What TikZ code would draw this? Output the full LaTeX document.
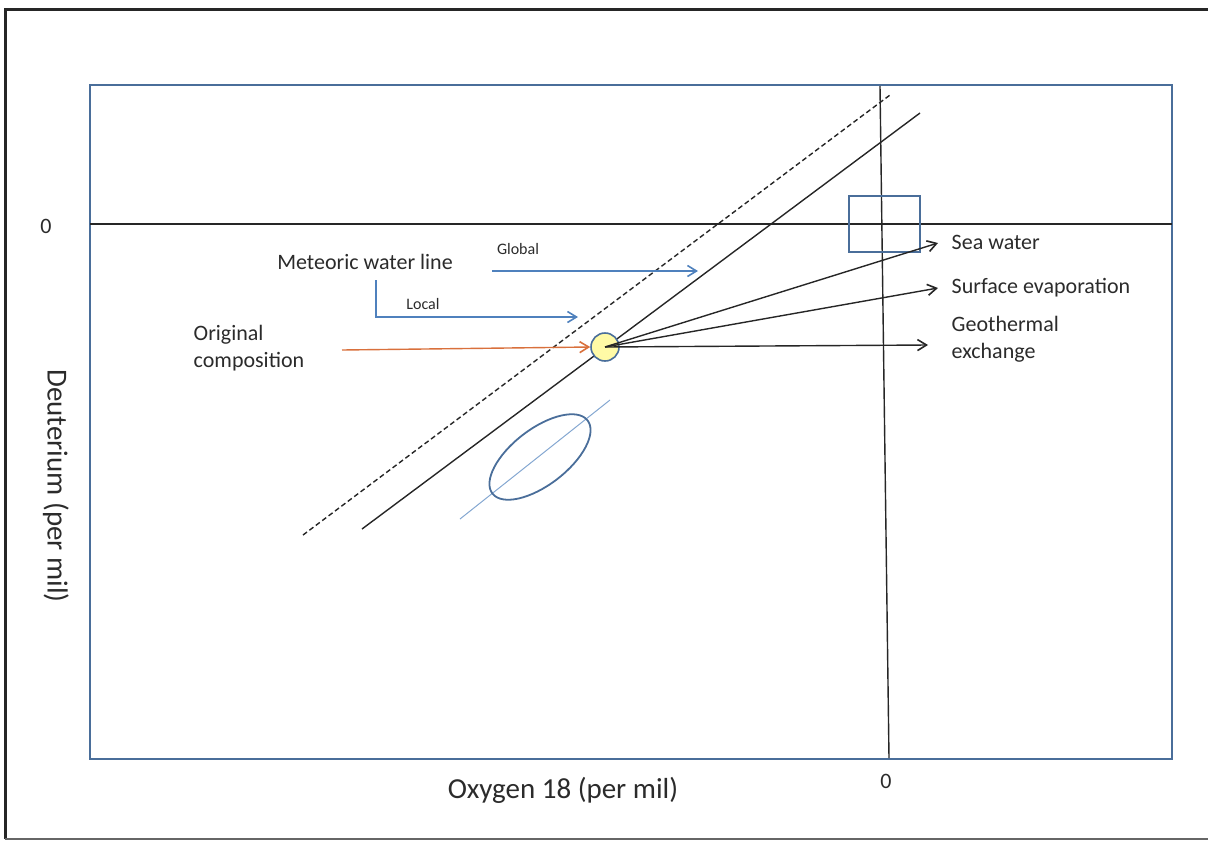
\documentclass[tikz,border=0pt]{standalone}
\usepackage{fontspec}
\setmainfont{Carlito}
\usetikzlibrary{arrows.meta}

\definecolor{frameblue}{HTML}{4A6E9A}
\definecolor{lineblue}{HTML}{4F81BD}
\definecolor{origred}{HTML}{D9703C}
\definecolor{txtgray}{HTML}{2B2B2B}

\tikzset{
    lbl/.style={text=txtgray, inner sep=0pt, font=\fontsize{22}{27}\selectfont},
    smalllbl/.style={text=txtgray, inner sep=0pt, font=\fontsize{16}{19}\selectfont},
    axlbl/.style={text=txtgray, inner sep=0pt, font=\fontsize{29}{34}\selectfont},
    tip/.style={-{Straight Barb[length=9pt,width=11pt,line width=1.6pt]}},
}

\begin{document}
\begin{tikzpicture}[x=1pt, y=-1pt, line width=1.4pt]
    \useasboundingbox (0,0) rectangle (1208,841);

    % Outer frame
    \draw[line width=3pt, black!85] (1210,9) -- (5,9) -- (5,839);
    \draw[line width=2pt, black!60] (5,839) -- (1210,839);

    % Plot area and zero lines
    \draw[frameblue, line width=2pt] (90,85) rectangle (1172,759);
    \coordinate (hl) at (90,224);
    \coordinate (hr) at (1172,224);
    \coordinate (vt) at (880,86);
    \coordinate (vb) at (889,758);
    \draw[black!85] (hl) -- (hr);
    \draw[black!85] (vt) -- (vb);

    % Sea water box
    \draw[frameblue, line width=1.8pt] (849,196) rectangle (920,252);

    % Meteoric water lines (global dashed, local solid)
    \coordinate (g1) at (303,535);
    \coordinate (g2) at (890,95);
    \coordinate (l1) at (362,529);
    \coordinate (l2) at (920,113);
    \draw[black!85, dashed, dash pattern=on 5pt off 3pt] (g1) -- (g2);
    \draw[black!85] (l1) -- (l2);

    % Sample spread
    \coordinate (s1) at (460,519);
    \coordinate (s2) at (610,400);
    \draw[lineblue!70, line width=1pt] (s1) -- (s2);
    \draw[frameblue, line width=1.8pt, rotate around={37.5:(540,457)}] (540,457) ellipse [x radius=60, y radius=28];

    % Original composition point
    \node[circle, draw=frameblue, fill=yellow!35, line width=1.6pt, minimum size=28pt, inner sep=0pt] (orig) at (605,347) {};

    % Labels
    \node[lbl, anchor=west] (seatxt) at (951,242) {Sea water};
    \node[lbl, anchor=west] (surftxt) at (951,288) {Surface evaporation};
    \node[lbl, anchor=west, align=left] (geotxt) at (951,339) {Geothermal\\exchange};
    \node[lbl] (mwl) at (365,262) {Meteoric water line};
    \node[smalllbl] (globtxt) at (518,249) {Global};
    \node[smalllbl] (loctxt) at (423,304) {Local};
    \node[lbl, anchor=west, align=left] (origtxt) at (193,348) {Original\\composition};
    \node[lbl] (zeroy) at (46,226) {0};
    \node[lbl] (zerox) at (886,781) {0};
    \node[axlbl] (xlab) at (563,790) {Oxygen 18 (per mil)};
    \node[axlbl, rotate=-90] (ylab) at (56,486) {Deuterium (per mil)};

    % Process arrows
    \coordinate (seaend) at (938,243);
    \coordinate (surfend) at (938,288);
    \coordinate (geoend) at (928,345);
    \draw[tip, black!85] (orig.center) -- (seaend);
    \draw[tip, black!85] (orig.center) -- (surfend);
    \draw[tip, black!85] (orig.center) -- (geoend);

    % Pointer arrows
    \coordinate (gstart) at (492,271);
    \coordinate (gend) at (698,271);
    \coordinate (lstart) at (376,280);
    \coordinate (lcorner) at (376,317);
    \coordinate (lend) at (578,317);
    \coordinate (ostart) at (342,350);
    \draw[tip, lineblue] (gstart) -- (gend);
    \draw[tip, lineblue] (lstart) -- (lcorner) -- (lend);
    \draw[tip, origred] (ostart) -- (orig.west);

\end{tikzpicture}
\end{document}
